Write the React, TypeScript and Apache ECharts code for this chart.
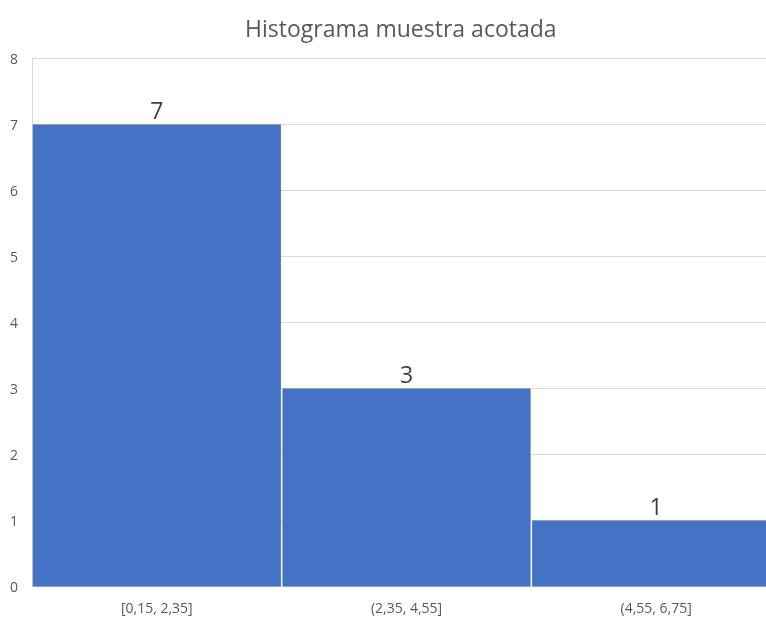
import React, { useEffect, useRef } from "react";
import * as echarts from "echarts";

const title = "Histograma muestra acotada";
const categories = ["[0,15, 2,35]", "(2,35, 4,55]", "(4,55, 6,75]"];
const counts = [7, 3, 1];

export default function App() {
  const ref = useRef<HTMLDivElement>(null);
  useEffect(() => {
    document.body.style.margin = "0";
    document.documentElement.style.overflow = "hidden";
    const chart = echarts.init(ref.current!, undefined, { renderer: "svg" });
    const font = "'Open Sans', 'Noto Sans', sans-serif";
    chart.setOption({
      animation: false,
      textStyle: { fontFamily: font },
      title: {
        text: title,
        left: 240,
        top: 11,
        textStyle: { fontFamily: font, fontSize: 23, fontWeight: "normal", color: "#595959" },
      },
      grid: { left: 32, right: 0, top: 58.5, bottom: 30.5, containLabel: false },
      xAxis: {
        type: "category",
        data: categories,
        axisLine: { show: true, lineStyle: { color: "#d9d9d9", width: 1 } },
        axisTick: { show: false },
        axisLabel: { color: "#595959", fontSize: 14, margin: 14, fontFamily: font },
      },
      yAxis: {
        type: "value",
        min: 0,
        max: 8,
        interval: 1,
        axisLine: { show: true, lineStyle: { color: "#d9d9d9", width: 1 } },
        axisTick: { show: false },
        axisLabel: { color: "#595959", fontSize: 14, margin: 14, fontFamily: font },
        splitLine: { show: true, lineStyle: { color: "#d9d9d9", width: 1 } },
      },
      series: [
        {
          type: "bar",
          data: counts,
          barWidth: "99.4%",
          itemStyle: { color: "#4472C4" },
          label: {
            show: true,
            position: "top",
            distance: 3,
            color: "#404040",
            fontSize: 23,
            fontFamily: font,
          },
        },
      ],
    });
    return () => chart.dispose();
  }, []);
  return <div ref={ref} style={{ position: "fixed", left: 0, top: 0, width: 781, height: 617 }} />;
}
